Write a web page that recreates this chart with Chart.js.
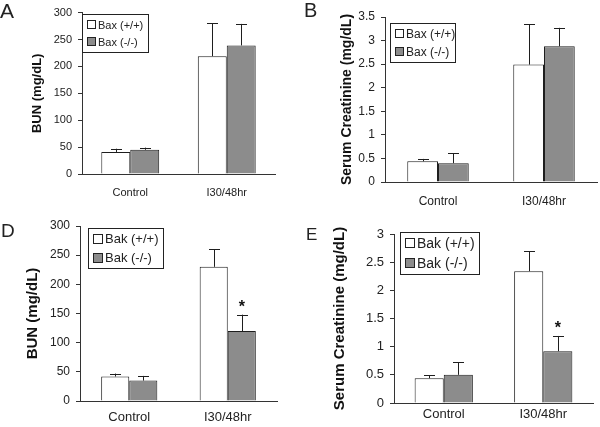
<!DOCTYPE html>
<html>
<head>
<meta charset="utf-8">
<script src="https://cdn.jsdelivr.net/npm/chart.js@4"></script>
<style>
    body { margin: 0; background: #fff; }
    #wrap { position: relative; width: 600px; height: 427px; overflow: hidden; font-family: "Liberation Sans", Arial, sans-serif; }
    .panel { position: absolute; }
    .letter { position: absolute; color: #222; line-height: 1; }
</style>
</head>
<body>
<div id="wrap">
    <div class="panel" style="left:0;top:0;width:300px;height:210px"><canvas id="chartA"></canvas></div>
    <div class="panel" style="left:300px;top:0;width:300px;height:215px"><canvas id="chartB"></canvas></div>
    <div class="panel" style="left:0;top:210px;width:300px;height:217px"><canvas id="chartD"></canvas></div>
    <div class="panel" style="left:300px;top:215px;width:300px;height:212px"><canvas id="chartE"></canvas></div>
    <div class="letter" style="left:0;top:0;font-size:21px">A</div>
    <div class="letter" style="left:304px;top:0;font-size:20px">B</div>
    <div class="letter" style="left:1px;top:221px;font-size:19px">D</div>
    <div class="letter" style="left:306px;top:226px;font-size:17px">E</div>
</div>
<script>
// shared categories
const groups = ['Control', 'I30/48hr'];

// A: BUN, Bax
const baxWtBun = [41, 219];
const baxWtBunErr = [47, 280];
const baxKoBun = [45, 239];
const baxKoBunErr = [49, 279];

// B: serum creatinine, Bax
const baxWtCr = [0.44, 2.49];
const baxWtCrErr = [0.49, 3.35];
const baxKoCr = [0.40, 2.88];
const baxKoCrErr = [0.61, 3.27];

// D: BUN, Bak
const bakWtBun = [42, 230];
const bakWtBunErr = [47, 260];
const bakKoBun = [35, 120];
const bakKoBunErr = [43, 148];
const bakKoBunStar = [false, true];

// E: serum creatinine, Bak
const bakWtCr = [0.44, 2.34];
const bakWtCrErr = [0.49, 2.69];
const bakKoCr = [0.50, 0.92];
const bakKoCrErr = [0.72, 1.19];
const bakKoCrStar = [false, true];

const bunTicks = { max: 300, step: 50 };
const crBaxTicks = { max: 3.5, step: 0.5 };
const crBakTicks = { max: 3, step: 0.5 };

const FONT = '"Liberation Sans", Arial, sans-serif';
const WHITE = '#ffffff';
const GRAY = '#8c8c8c';
const EDGE = '#1e1e1e';

// error bars (upward only) and significance stars
const errorBarPlugin = {
    id: 'errorBars',
    afterDatasetsDraw(chart) {
        const ctx = chart.ctx;
        const y = chart.scales.y;
        ctx.save();
        chart.data.datasets.forEach((ds, di) => {
            const meta = chart.getDatasetMeta(di);
            meta.data.forEach((bar, i) => {
                const top = y.getPixelForValue(ds.err[i]);
                ctx.strokeStyle = EDGE;
                ctx.lineWidth = 1;
                ctx.beginPath();
                ctx.moveTo(Math.round(bar.x) + 0.5, bar.y);
                ctx.lineTo(Math.round(bar.x) + 0.5, top);
                ctx.moveTo(Math.round(bar.x) - 5, Math.round(top) + 0.5);
                ctx.lineTo(Math.round(bar.x) + 6, Math.round(top) + 0.5);
                ctx.stroke();
                if (ds.star && ds.star[i]) {
                    ctx.fillStyle = '#111';
                    ctx.font = 'bold ' + chart.options.starSize + 'px ' + FONT;
                    ctx.textAlign = 'center';
                    ctx.textBaseline = 'middle';
                    ctx.fillText('*', bar.x, top - 7);
                }
            });
        });
        ctx.restore();
    }
};

// boxed legend inside the plot
const boxLegendPlugin = {
    id: 'boxLegend',
    afterDraw(chart) {
        const o = chart.options.boxLegend;
        const ctx = chart.ctx;
        ctx.save();
        ctx.strokeStyle = '#222';
        ctx.lineWidth = 1;
        ctx.fillStyle = '#fff';
        ctx.fillRect(o.x, o.y, o.w, o.h);
        ctx.strokeRect(o.x + 0.5, o.y + 0.5, o.w, o.h);
        const pad = (o.h - 2 * o.row) / 2;
        chart.data.datasets.forEach((ds, i) => {
            const cy = o.y + pad + o.row * (i + 0.5);
            ctx.fillStyle = ds.backgroundColor;
            ctx.fillRect(o.x + 5, Math.round(cy - o.sw / 2), o.sw, o.sw);
            ctx.strokeRect(o.x + 5.5, Math.round(cy - o.sw / 2) + 0.5, o.sw - 1, o.sw - 1);
            ctx.fillStyle = '#222';
            ctx.font = o.font + 'px ' + FONT;
            ctx.textAlign = 'left';
            ctx.textBaseline = 'middle';
            ctx.fillText(ds.label, o.x + 7 + o.sw, cy + 1);
        });
        ctx.restore();
    }
};

function makeChart(id, p) {
    return new Chart(document.getElementById(id), {
        type: 'bar',
        data: {
            labels: groups,
            datasets: [
                { label: p.names[0], data: p.wt, err: p.wtErr, backgroundColor: WHITE, borderColor: EDGE, borderWidth: 1 },
                { label: p.names[1], data: p.ko, err: p.koErr, star: p.star, backgroundColor: GRAY, borderColor: EDGE, borderWidth: 1 }
            ]
        },
        plugins: [errorBarPlugin, boxLegendPlugin],
        options: {
            responsive: true,
            maintainAspectRatio: false,
            animation: false,
            starSize: p.starSize || 16,
            boxLegend: p.legend,
            layout: { padding: { top: p.top, right: p.right, left: 0, bottom: 0 } },
            datasets: { bar: { categoryPercentage: p.catPct, barPercentage: 1.0 } },
            plugins: { legend: { display: false }, tooltip: { enabled: false } },
            scales: {
                x: {
                    grid: { display: false, drawTicks: false },
                    border: { display: true, color: '#333', width: 1 },
                    ticks: { color: '#222', font: { family: FONT, size: p.catFont }, padding: p.catPad, maxRotation: 0 },
                    afterFit: s => { s.height = p.xH; }
                },
                y: {
                    min: 0,
                    max: p.ticks.max,
                    grid: { drawOnChartArea: false, drawTicks: true, tickLength: 4, color: '#333' },
                    border: { display: true, color: '#333', width: 1 },
                    ticks: {
                        stepSize: p.ticks.step,
                        color: '#222',
                        font: { family: FONT, size: p.tickFont },
                        padding: 6,
                        callback: v => String(Math.round(v * 100) / 100)
                    },
                    title: {
                        display: true,
                        text: p.title,
                        color: '#111',
                        font: { family: FONT, size: p.titleFont, weight: 'bold' },
                        padding: { top: p.titleX - p.titleFont * 0.6, bottom: 0 }
                    },
                    afterFit: s => { s.width = p.yW; }
                }
            }
        }
    });
}

makeChart('chartA', {
    names: ['Bax (+/+)', 'Bax (-/-)'],
    wt: baxWtBun, wtErr: baxWtBunErr, ko: baxKoBun, koErr: baxKoBunErr,
    ticks: bunTicks, title: 'BUN (mg/dL)',
    top: 9, right: 25, yW: 82, xH: 36, catPct: 0.6,
    tickFont: 11, catFont: 11, catPad: 12, titleFont: 13, titleX: 37,
    legend: { x: 82, y: 14, w: 66, h: 38, row: 17, sw: 9, font: 11 }
});

makeChart('chartB', {
    names: ['Bax (+/+)', 'Bax (-/-)'],
    wt: baxWtCr, wtErr: baxWtCrErr, ko: baxKoCr, koErr: baxKoCrErr,
    ticks: crBaxTicks, title: 'Serum Creatinine (mg/dL)',
    top: 17, right: 3, yW: 85, xH: 33, catPct: 0.58,
    tickFont: 12, catFont: 12, catPad: 12, titleFont: 14, titleX: 47,
    legend: { x: 90, y: 23, w: 65, h: 39, row: 18, sw: 9, font: 12 }
});

makeChart('chartD', {
    names: ['Bak (+/+)', 'Bak (-/-)'],
    wt: bakWtBun, wtErr: bakWtBunErr, ko: bakKoBun, koErr: bakKoBunErr, star: bakKoBunStar,
    ticks: bunTicks, title: 'BUN (mg/dL)',
    top: 16, right: 23, yW: 80, xH: 26, catPct: 0.57,
    tickFont: 12, catFont: 13, catPad: 9, titleFont: 15, titleX: 33,
    legend: { x: 88, y: 18, w: 75, h: 40, row: 19, sw: 10, font: 13 }
});

makeChart('chartE', {
    names: ['Bak (+/+)', 'Bak (-/-)'],
    wt: bakWtCr, wtErr: bakWtCrErr, ko: bakKoCr, koErr: bakKoCrErr, star: bakKoCrStar,
    ticks: crBakTicks, title: 'Serum Creatinine (mg/dL)',
    top: 19, right: 7, yW: 94, xH: 24, catPct: 0.585,
    tickFont: 13, catFont: 13, catPad: 4, titleFont: 15, titleX: 40,
    legend: { x: 100, y: 17, w: 79, h: 42, row: 20, sw: 10, font: 14 }
});
</script>
</body>
</html>
